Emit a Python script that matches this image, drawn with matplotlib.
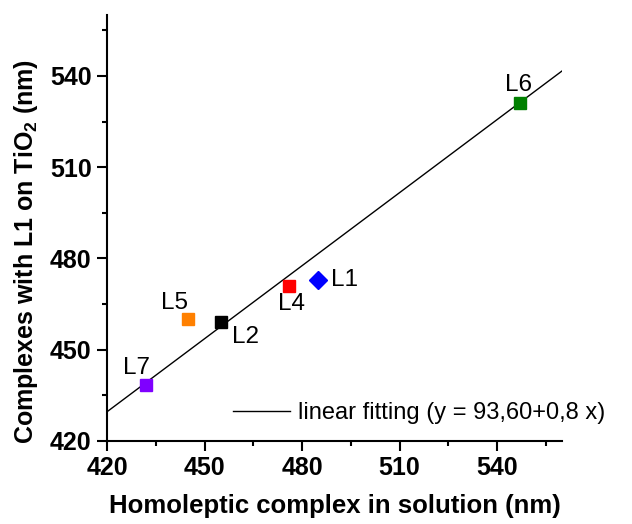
import numpy as np
import matplotlib
matplotlib.use("Agg")
import matplotlib.pyplot as plt

plt.rcParams['font.family'] = ['Liberation Sans', 'DejaVu Sans']
plt.rcParams['mathtext.fontset'] = 'custom'
plt.rcParams['mathtext.rm'] = 'Liberation Sans'
plt.rcParams['mathtext.bf'] = 'Liberation Sans:bold'

# data
names = ['L1', 'L2', 'L4', 'L5', 'L6', 'L7']
x_sol = [485, 455, 476, 445, 547, 432]
y_tio2 = [473, 459, 471, 460, 531, 438.5]
colors = ['#0000ff', '#000000', '#ff0000', '#ff8000', '#008000', '#7f00ff']
markers = ['D', 's', 's', 's', 's', 's']

fit_a = 93.60
fit_b = 0.8

# label placement (offset in points, alignment)
label_pos = {
    'L1': ((9, 0), 'left', 'center'),
    'L2': ((8, -3), 'left', 'top'),
    'L4': ((2, -5), 'center', 'top'),
    'L5': ((0, 4), 'right', 'bottom'),
    'L6': ((-1, 5), 'center', 'bottom'),
    'L7': ((3, 4), 'right', 'bottom'),
}

fig = plt.figure(figsize=(6.32, 5.24), dpi=100)
ax = fig.add_axes([107/632, 83/524, 455/632, 426/524])

xx = np.array([420, 560])
ax.plot(xx, fit_a + fit_b*xx, color='black', lw=1.0,
        label='linear fitting (y = 93,60+0,8 x)')

for n, x, y, c, m in zip(names, x_sol, y_tio2, colors, markers):
    ms = 9 if m == 'D' else 8
    ax.plot(x, y, marker=m, color=c, ms=ms, ls='none', zorder=3)
    off, ha, va = label_pos[n]
    ax.annotate(n, (x, y), xytext=off, textcoords='offset points',
                ha=ha, va=va, fontsize=17.5)

ax.set_xlim(420, 560)
ax.set_ylim(420, 560)
ax.set_xticks([420, 450, 480, 510, 540])
ax.set_yticks([420, 450, 480, 510, 540])
ax.set_xticks(np.arange(435, 560, 30), minor=True)
ax.set_yticks(np.arange(435, 560, 30), minor=True)

for s in ['top', 'right']:
    ax.spines[s].set_visible(False)
for s in ['left', 'bottom']:
    ax.spines[s].set_linewidth(1.5)

ax.tick_params(which='major', direction='out', length=7, width=1.5, labelsize=18, pad=4)
ax.tick_params(which='minor', direction='out', length=3.5, width=1.5)
for lab in ax.get_xticklabels() + ax.get_yticklabels():
    lab.set_fontweight('bold')

ax.set_xlabel('Homoleptic complex in solution (nm)', fontsize=18.5, fontweight='bold', labelpad=10)
ax.set_ylabel(r'Complexes with L1 on TiO$_\mathbf{2}$ (nm)', fontsize=18, fontweight='bold')
ax.yaxis.set_label_coords(-0.148, 0.444)

ax.legend(loc='center left', bbox_to_anchor=(126/455, 28/426), frameon=False,
          fontsize=17, handlelength=2.4, handletextpad=0.35, borderpad=0, borderaxespad=0)

fig.savefig('out.png', dpi=100)
